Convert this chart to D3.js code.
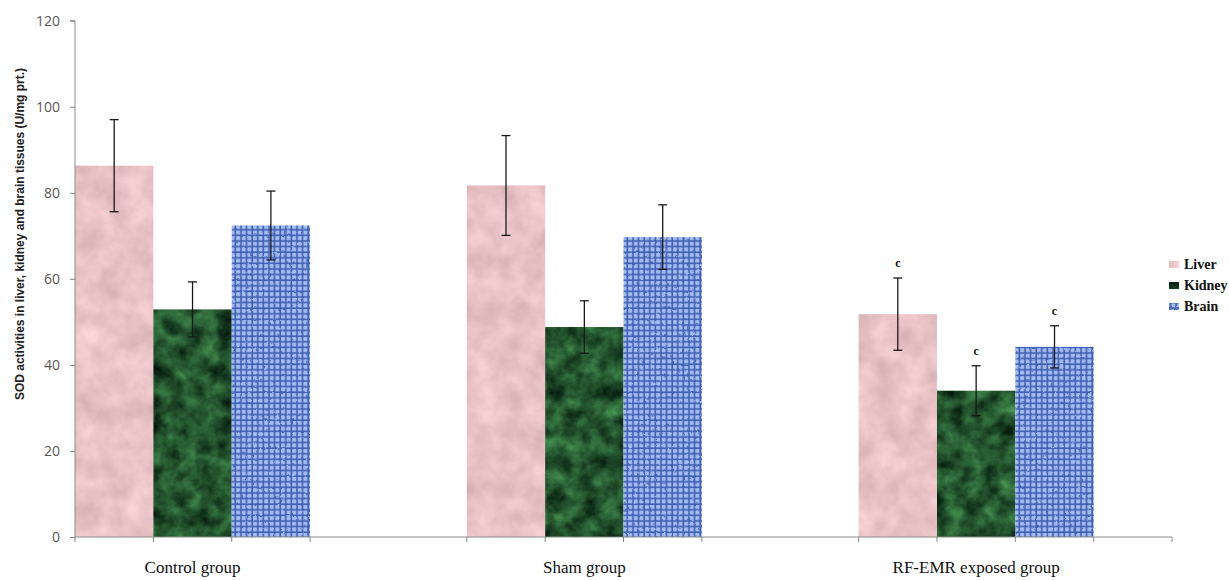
<!DOCTYPE html>
<html>
<head>
<meta charset="utf-8">
<script src="https://cdn.jsdelivr.net/npm/d3@7"></script>
<style>
  html, body { margin: 0; padding: 0; background: #fff; }
  svg { display: block; }
</style>
</head>
<body>
<div id="chart"></div>
<script>
// Groups, tissues and SOD activity values (U/mg protein), mean and error
const groups = ["Control group", "Sham group", "RF-EMR exposed group"];
const tissues = ["Liver", "Kidney", "Brain"];
const liverValues  = [86.3, 81.7, 51.8];
const liverErrors  = [10.7, 11.6, 8.4];
const kidneyValues = [52.9, 48.8, 34.0];
const kidneyErrors = [6.4, 6.1, 5.8];
const brainValues  = [72.4, 69.7, 44.2];
const brainErrors  = [8.0, 7.5, 4.9];
const significance = ["", "", "c"];
const yTicks = [0, 20, 40, 60, 80, 100, 120];
const yTitle = "SOD activities in liver, kidney and brain tissues (U/mg prt.)";

const W = 1229, H = 580;
const svg = d3.select("#chart").append("svg").attr("width", W).attr("height", H);
const defs = svg.append("defs");

// --- textures -------------------------------------------------------------
function noiseFilter(id, freq, oct, seed, matrix, type) {
  const f = defs.append("filter").attr("id", id)
    .attr("color-interpolation-filters", "sRGB")
    .attr("filterUnits", "userSpaceOnUse")
    .attr("x", 0).attr("y", 0).attr("width", W).attr("height", H);
  f.append("feTurbulence").attr("type", type || "fractalNoise")
    .attr("baseFrequency", freq).attr("numOctaves", oct).attr("seed", seed).attr("result", "n");
  f.append("feColorMatrix").attr("in", "n").attr("type", "matrix").attr("values", matrix);
}
// pink marble
noiseFilter("fLiver", 0.04, 4, 7,
  "0.20 0 0 0 0.81  0.20 0 0 0 0.66  0.20 0 0 0 0.67  0 0 0 0 1");
// dark green marble
noiseFilter("fKidney", 0.055, 5, 11,
  "0.34 0 0 0 -0.03  0.62 0 0 0 0.02  0.36 0 0 0 0.0  0 0 0 0 1");

function fullPattern(id, filterId) {
  const p = defs.append("pattern").attr("id", id)
    .attr("patternUnits", "userSpaceOnUse").attr("width", W).attr("height", H);
  p.append("rect").attr("width", W).attr("height", H).attr("filter", `url(#${filterId})`);
}
fullPattern("texLiver", "fLiver");
fullPattern("texKidney", "fKidney");

// blue woven cloth
const weave = defs.append("pattern").attr("id", "weave")
  .attr("patternUnits", "userSpaceOnUse").attr("width", 5.6).attr("height", 5.6);
weave.append("rect").attr("width", 5.6).attr("height", 5.6).attr("fill", "#3f5fb2");
weave.append("rect").attr("x", 1).attr("y", 1).attr("width", 4).attr("height", 4).attr("fill", "#a3bcf2");
const fb = defs.append("filter").attr("id", "fBrain")
  .attr("color-interpolation-filters", "sRGB")
  .attr("filterUnits", "userSpaceOnUse").attr("x", 0).attr("y", 0).attr("width", W).attr("height", H);
fb.append("feTurbulence").attr("type", "fractalNoise").attr("baseFrequency", 0.22)
  .attr("numOctaves", 2).attr("seed", 4).attr("result", "n");
fb.append("feDisplacementMap").attr("in", "SourceGraphic").attr("in2", "n")
  .attr("scale", 2.2).attr("xChannelSelector", "R").attr("yChannelSelector", "G");
const brainPat = defs.append("pattern").attr("id", "texBrain")
  .attr("patternUnits", "userSpaceOnUse").attr("width", W).attr("height", H);
brainPat.append("rect").attr("width", W).attr("height", H)
  .attr("fill", "url(#weave)").attr("filter", "url(#fBrain)");

const fills = { Liver: "url(#texLiver)", Kidney: "url(#texKidney)", Brain: "url(#texBrain)" };

// --- scales ---------------------------------------------------------------
const y = d3.scaleLinear().domain([0, 120]).range([537, 20.7]);
const x = d3.scaleBand().domain(groups).range([75, 1093.7]).paddingInner(0.4).paddingOuter(0).align(0);
const xs = d3.scaleBand().domain(tissues).range([0, x.bandwidth()]);
const axisEnd = x.range()[1] + xs.bandwidth();

const rows = [];
groups.forEach((g, i) => {
  rows.push({ group: g, tissue: "Liver",  value: liverValues[i],  err: liverErrors[i],  sig: significance[i] });
  rows.push({ group: g, tissue: "Kidney", value: kidneyValues[i], err: kidneyErrors[i], sig: significance[i] });
  rows.push({ group: g, tissue: "Brain",  value: brainValues[i],  err: brainErrors[i],  sig: significance[i] });
});

// --- bars -------------------------------------------------------------------
svg.append("g").selectAll("rect").data(rows).join("rect")
  .attr("x", d => x(d.group) + xs(d.tissue))
  .attr("y", d => y(d.value))
  .attr("width", xs.bandwidth())
  .attr("height", d => y(0) - y(d.value))
  .attr("fill", d => fills[d.tissue]);

// --- axes ---------------------------------------------------------------------
const axisColor = "#8a8a8a";
const yAxis = svg.append("g").attr("transform", "translate(75,0)")
  .call(d3.axisLeft(y).tickValues(yTicks).tickSize(5).tickPadding(10));
yAxis.select(".domain").attr("stroke", axisColor).attr("d", `M-5,${y(120)}H0V${y(0)}`);
yAxis.selectAll(".tick line").attr("stroke", axisColor);
yAxis.selectAll(".tick text").attr("fill", "#595959")
  .style("font-family", "'Open Sans', sans-serif").style("font-size", "14px");

const edgeTicks = [];
groups.forEach(g => {
  tissues.forEach(t => edgeTicks.push(x(g) + xs(t)));
  edgeTicks.push(x(g) + x.bandwidth());
});
edgeTicks.push(axisEnd);
const xAxis = svg.append("g");
xAxis.append("line").attr("x1", 75).attr("x2", axisEnd).attr("y1", y(0)).attr("y2", y(0))
  .attr("stroke", axisColor);
xAxis.selectAll("line.tk").data(edgeTicks).join("line").attr("class", "tk")
  .attr("x1", d => d).attr("x2", d => d).attr("y1", y(0)).attr("y2", y(0) + 5)
  .attr("stroke", axisColor);
xAxis.selectAll("text").data(groups).join("text")
  .attr("x", d => x(d) + x.bandwidth() / 2).attr("y", 573)
  .attr("text-anchor", "middle")
  .style("font-family", "'Liberation Serif', 'Times New Roman', serif").style("font-size", "17px")
  .attr("fill", "#111").text(d => d);

// y title
svg.append("text")
  .attr("transform", `translate(20,234) rotate(-90)`)
  .attr("text-anchor", "middle").attr("dy", "0.35em")
  .attr("textLength", 332).attr("lengthAdjust", "spacingAndGlyphs")
  .style("font-family", "'Liberation Sans', Arial, sans-serif").style("font-size", "12px")
  .style("font-weight", "bold").attr("fill", "#222").text(yTitle);

// --- error bars ----------------------------------------------------------
const eb = svg.append("g").attr("stroke", "#1a1a1a").attr("stroke-width", 1.3);
rows.forEach(d => {
  const cx = x(d.group) + xs(d.tissue) + xs.bandwidth() / 2;
  const t = y(d.value + d.err), b = y(d.value - d.err);
  eb.append("line").attr("x1", cx).attr("x2", cx).attr("y1", t).attr("y2", b);
  eb.append("line").attr("x1", cx - 4.5).attr("x2", cx + 4.5).attr("y1", t).attr("y2", t);
  eb.append("line").attr("x1", cx - 4.5).attr("x2", cx + 4.5).attr("y1", b).attr("y2", b);
});

// significance letters
svg.append("g").selectAll("text").data(rows.filter(d => d.sig)).join("text")
  .attr("x", d => x(d.group) + xs(d.tissue) + xs.bandwidth() / 2)
  .attr("y", d => y(d.value + d.err) - 11)
  .attr("text-anchor", "middle")
  .style("font-family", "'Liberation Serif', serif").style("font-size", "12px").style("font-weight", "bold")
  .attr("fill", "#111").text(d => d.sig);

// --- legend ---------------------------------------------------------------
const legend = svg.append("g");
tissues.forEach((t, i) => {
  const ly = 261 + i * 21;
  legend.append("rect").attr("x", 1169).attr("y", ly).attr("width", 10).attr("height", 7)
    .attr("fill", fills[t]);
  legend.append("text").attr("x", 1184).attr("y", ly + 8)
    .style("font-family", "'Liberation Serif', serif").style("font-size", "14px").style("font-weight", "bold")
    .attr("fill", "#111").text(t);
});
</script>
</body>
</html>
